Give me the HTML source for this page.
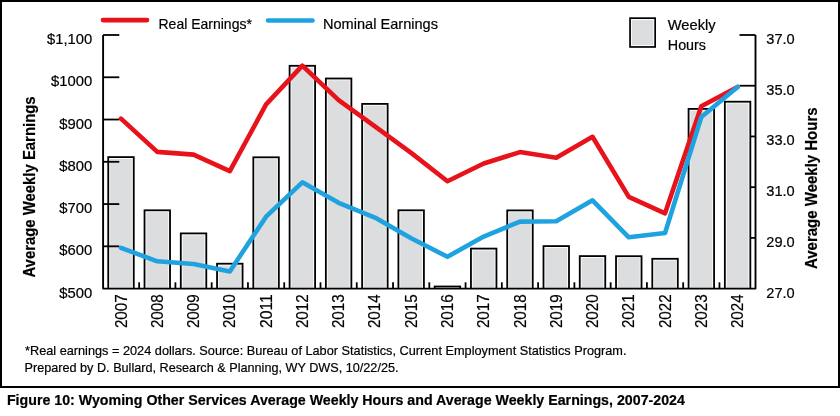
<!DOCTYPE html><html><head><meta charset="utf-8"><style>html,body{margin:0;padding:0;background:#fff;}svg{display:block;will-change:transform;}text{font-family:"Liberation Sans", sans-serif;fill:#000;stroke:#000;stroke-width:0.2px;}</style></head><body>
<svg width="840" height="416" viewBox="0 0 840 416">
<rect x="0" y="0" width="840" height="416" fill="#fff"/>
<rect x="1" y="1" width="838" height="386" fill="none" stroke="#000" stroke-width="2"/>
<line x1="755.5" y1="35.00" x2="739.5" y2="35.00" stroke="#000" stroke-width="1.8"/>
<line x1="755.5" y1="85.72" x2="739.5" y2="85.72" stroke="#000" stroke-width="1.8"/>
<line x1="755.5" y1="136.44" x2="739.5" y2="136.44" stroke="#000" stroke-width="1.8"/>
<line x1="755.5" y1="187.16" x2="739.5" y2="187.16" stroke="#000" stroke-width="1.8"/>
<line x1="755.5" y1="237.88" x2="739.5" y2="237.88" stroke="#000" stroke-width="1.8"/>
<rect x="107.35" y="156.20" width="27.30" height="132.40" fill="#000"/>
<rect x="109.15" y="158.00" width="23.70" height="130.60" fill="#fbfbfc"/>
<rect x="110.15" y="159.00" width="21.70" height="129.60" fill="#dcdddf"/>
<rect x="143.62" y="209.40" width="27.30" height="79.20" fill="#000"/>
<rect x="145.42" y="211.20" width="23.70" height="77.40" fill="#fbfbfc"/>
<rect x="146.42" y="212.20" width="21.70" height="76.40" fill="#dcdddf"/>
<rect x="179.89" y="232.50" width="27.30" height="56.10" fill="#000"/>
<rect x="181.69" y="234.30" width="23.70" height="54.30" fill="#fbfbfc"/>
<rect x="182.69" y="235.30" width="21.70" height="53.30" fill="#dcdddf"/>
<rect x="216.16" y="262.80" width="27.30" height="25.80" fill="#000"/>
<rect x="217.96" y="264.60" width="23.70" height="24.00" fill="#fbfbfc"/>
<rect x="218.96" y="265.60" width="21.70" height="23.00" fill="#dcdddf"/>
<rect x="252.43" y="156.40" width="27.30" height="132.20" fill="#000"/>
<rect x="254.23" y="158.20" width="23.70" height="130.40" fill="#fbfbfc"/>
<rect x="255.23" y="159.20" width="21.70" height="129.40" fill="#dcdddf"/>
<rect x="288.70" y="64.90" width="27.30" height="223.70" fill="#000"/>
<rect x="290.50" y="66.70" width="23.70" height="221.90" fill="#fbfbfc"/>
<rect x="291.50" y="67.70" width="21.70" height="220.90" fill="#dcdddf"/>
<rect x="324.97" y="77.60" width="27.30" height="211.00" fill="#000"/>
<rect x="326.77" y="79.40" width="23.70" height="209.20" fill="#fbfbfc"/>
<rect x="327.77" y="80.40" width="21.70" height="208.20" fill="#dcdddf"/>
<rect x="361.24" y="103.00" width="27.30" height="185.60" fill="#000"/>
<rect x="363.04" y="104.80" width="23.70" height="183.80" fill="#fbfbfc"/>
<rect x="364.04" y="105.80" width="21.70" height="182.80" fill="#dcdddf"/>
<rect x="397.51" y="209.40" width="27.30" height="79.20" fill="#000"/>
<rect x="399.31" y="211.20" width="23.70" height="77.40" fill="#fbfbfc"/>
<rect x="400.31" y="212.20" width="21.70" height="76.40" fill="#dcdddf"/>
<rect x="433.78" y="285.60" width="27.30" height="3.00" fill="#000"/>
<rect x="435.58" y="287.40" width="23.70" height="1.20" fill="#fbfbfc"/>
<rect x="436.58" y="288.40" width="21.70" height="0.20" fill="#dcdddf"/>
<rect x="470.05" y="247.70" width="27.30" height="40.90" fill="#000"/>
<rect x="471.85" y="249.50" width="23.70" height="39.10" fill="#fbfbfc"/>
<rect x="472.85" y="250.50" width="21.70" height="38.10" fill="#dcdddf"/>
<rect x="506.32" y="209.50" width="27.30" height="79.10" fill="#000"/>
<rect x="508.12" y="211.30" width="23.70" height="77.30" fill="#fbfbfc"/>
<rect x="509.12" y="212.30" width="21.70" height="76.30" fill="#dcdddf"/>
<rect x="542.59" y="245.20" width="27.30" height="43.40" fill="#000"/>
<rect x="544.39" y="247.00" width="23.70" height="41.60" fill="#fbfbfc"/>
<rect x="545.39" y="248.00" width="21.70" height="40.60" fill="#dcdddf"/>
<rect x="578.86" y="255.20" width="27.30" height="33.40" fill="#000"/>
<rect x="580.66" y="257.00" width="23.70" height="31.60" fill="#fbfbfc"/>
<rect x="581.66" y="258.00" width="21.70" height="30.60" fill="#dcdddf"/>
<rect x="615.13" y="255.30" width="27.30" height="33.30" fill="#000"/>
<rect x="616.93" y="257.10" width="23.70" height="31.50" fill="#fbfbfc"/>
<rect x="617.93" y="258.10" width="21.70" height="30.50" fill="#dcdddf"/>
<rect x="651.40" y="257.90" width="27.30" height="30.70" fill="#000"/>
<rect x="653.20" y="259.70" width="23.70" height="28.90" fill="#fbfbfc"/>
<rect x="654.20" y="260.70" width="21.70" height="27.90" fill="#dcdddf"/>
<rect x="687.67" y="108.00" width="27.30" height="180.60" fill="#000"/>
<rect x="689.47" y="109.80" width="23.70" height="178.80" fill="#fbfbfc"/>
<rect x="690.47" y="110.80" width="21.70" height="177.80" fill="#dcdddf"/>
<rect x="723.94" y="100.80" width="27.30" height="187.80" fill="#000"/>
<rect x="725.74" y="102.60" width="23.70" height="186.00" fill="#fbfbfc"/>
<rect x="726.74" y="103.60" width="21.70" height="185.00" fill="#dcdddf"/>
<path d="M103.1 35 V288.6 H755.5 V35" fill="none" stroke="#000" stroke-width="1.9" stroke-linejoin="round"/>
<line x1="103.1" y1="35.00" x2="119.3" y2="35.00" stroke="#000" stroke-width="1.8"/>
<line x1="103.1" y1="77.27" x2="119.3" y2="77.27" stroke="#000" stroke-width="1.8"/>
<line x1="103.1" y1="119.53" x2="119.3" y2="119.53" stroke="#000" stroke-width="1.8"/>
<line x1="103.1" y1="161.80" x2="119.3" y2="161.80" stroke="#000" stroke-width="1.8"/>
<line x1="103.1" y1="204.07" x2="119.3" y2="204.07" stroke="#000" stroke-width="1.8"/>
<line x1="103.1" y1="246.33" x2="119.3" y2="246.33" stroke="#000" stroke-width="1.8"/>
<line x1="139.14" y1="288.6" x2="139.14" y2="282.3" stroke="#000" stroke-width="1.8"/>
<line x1="175.41" y1="288.6" x2="175.41" y2="282.3" stroke="#000" stroke-width="1.8"/>
<line x1="211.68" y1="288.6" x2="211.68" y2="282.3" stroke="#000" stroke-width="1.8"/>
<line x1="247.95" y1="288.6" x2="247.95" y2="282.3" stroke="#000" stroke-width="1.8"/>
<line x1="284.22" y1="288.6" x2="284.22" y2="282.3" stroke="#000" stroke-width="1.8"/>
<line x1="320.49" y1="288.6" x2="320.49" y2="282.3" stroke="#000" stroke-width="1.8"/>
<line x1="356.75" y1="288.6" x2="356.75" y2="282.3" stroke="#000" stroke-width="1.8"/>
<line x1="393.03" y1="288.6" x2="393.03" y2="282.3" stroke="#000" stroke-width="1.8"/>
<line x1="429.30" y1="288.6" x2="429.30" y2="282.3" stroke="#000" stroke-width="1.8"/>
<line x1="465.57" y1="288.6" x2="465.57" y2="282.3" stroke="#000" stroke-width="1.8"/>
<line x1="501.84" y1="288.6" x2="501.84" y2="282.3" stroke="#000" stroke-width="1.8"/>
<line x1="538.11" y1="288.6" x2="538.11" y2="282.3" stroke="#000" stroke-width="1.8"/>
<line x1="574.38" y1="288.6" x2="574.38" y2="282.3" stroke="#000" stroke-width="1.8"/>
<line x1="610.64" y1="288.6" x2="610.64" y2="282.3" stroke="#000" stroke-width="1.8"/>
<line x1="646.92" y1="288.6" x2="646.92" y2="282.3" stroke="#000" stroke-width="1.8"/>
<line x1="683.19" y1="288.6" x2="683.19" y2="282.3" stroke="#000" stroke-width="1.8"/>
<line x1="719.46" y1="288.6" x2="719.46" y2="282.3" stroke="#000" stroke-width="1.8"/>
<polyline points="121.00,118.60 157.27,151.90 193.54,154.60 229.81,171.20 266.08,104.40 302.35,65.60 338.62,100.20 374.89,126.30 411.16,152.90 447.43,181.20 483.70,163.50 519.97,152.10 556.24,157.70 592.51,136.80 628.78,196.90 665.05,213.30 701.32,106.30 737.59,87.00" fill="none" stroke="#e8121b" stroke-width="4.6" stroke-linejoin="round" stroke-linecap="round"/>
<polyline points="121.00,247.80 157.27,261.30 193.54,264.00 229.81,271.40 266.08,216.70 302.35,182.30 338.62,202.80 374.89,217.60 411.16,238.20 447.43,256.80 483.70,236.60 519.97,221.60 556.24,221.30 592.51,200.30 628.78,237.30 665.05,233.00 701.32,117.00 737.59,87.00" fill="none" stroke="#1fa3e0" stroke-width="4.6" stroke-linejoin="round" stroke-linecap="round"/>
<line x1="103" y1="20.1" x2="147" y2="20.1" stroke="#e8121b" stroke-width="4.6" stroke-linecap="round"/>
<line x1="268" y1="20.5" x2="312.5" y2="20.5" stroke="#1fa3e0" stroke-width="4.6" stroke-linecap="round"/>
<text x="158.5" y="28.7" font-size="14.8" textLength="93.4" lengthAdjust="spacingAndGlyphs">Real Earnings*</text>
<text x="323" y="28.75" font-size="14.8" textLength="115" lengthAdjust="spacingAndGlyphs">Nominal Earnings</text>
<rect x="629.2" y="17.3" width="26.8" height="30.5" fill="#000"/>
<rect x="630.9" y="19" width="23.4" height="27.1" fill="#fbfbfc"/>
<rect x="632" y="20.1" width="21.2" height="24.9" fill="#dcdddf"/>
<text x="667.8" y="29.7" font-size="14" textLength="47.8" lengthAdjust="spacingAndGlyphs">Weekly</text>
<text x="667.8" y="50" font-size="14" textLength="38.2" lengthAdjust="spacingAndGlyphs">Hours</text>
<text x="92.2" y="44.00" font-size="14.8" text-anchor="end">$1,100</text>
<text x="92.2" y="86.27" font-size="14.8" text-anchor="end">$1000</text>
<text x="92.2" y="128.53" font-size="14.8" text-anchor="end">$900</text>
<text x="92.2" y="170.80" font-size="14.8" text-anchor="end">$800</text>
<text x="92.2" y="213.07" font-size="14.8" text-anchor="end">$700</text>
<text x="92.2" y="255.33" font-size="14.8" text-anchor="end">$600</text>
<text x="92.2" y="297.60" font-size="14.8" text-anchor="end">$500</text>
<text x="766.3" y="43.90" font-size="14.6">37.0</text>
<text x="766.3" y="94.62" font-size="14.6">35.0</text>
<text x="766.3" y="145.34" font-size="14.6">33.0</text>
<text x="766.3" y="196.06" font-size="14.6">31.0</text>
<text x="766.3" y="246.78" font-size="14.6">29.0</text>
<text x="766.3" y="297.50" font-size="14.6">27.0</text>
<text transform="translate(35.2,277.6) rotate(-90)" x="0" y="0" font-size="16.1" font-weight="bold" stroke="none" textLength="181.2" lengthAdjust="spacingAndGlyphs">Average Weekly Earnings</text>
<text transform="translate(817.4,269) rotate(-90)" x="0" y="0" font-size="16.1" font-weight="bold" stroke="none" textLength="161.6" lengthAdjust="spacingAndGlyphs">Average Weekly Hours</text>
<text transform="translate(126.60,328.1) rotate(-90)" x="0" y="0" font-size="16.2" textLength="33.8" lengthAdjust="spacingAndGlyphs">2007</text>
<text transform="translate(162.87,328.1) rotate(-90)" x="0" y="0" font-size="16.2" textLength="33.8" lengthAdjust="spacingAndGlyphs">2008</text>
<text transform="translate(199.14,328.1) rotate(-90)" x="0" y="0" font-size="16.2" textLength="33.8" lengthAdjust="spacingAndGlyphs">2009</text>
<text transform="translate(235.41,328.1) rotate(-90)" x="0" y="0" font-size="16.2" textLength="33.8" lengthAdjust="spacingAndGlyphs">2010</text>
<text transform="translate(271.68,328.1) rotate(-90)" x="0" y="0" font-size="16.2" textLength="33.8" lengthAdjust="spacingAndGlyphs">2011</text>
<text transform="translate(307.95,328.1) rotate(-90)" x="0" y="0" font-size="16.2" textLength="33.8" lengthAdjust="spacingAndGlyphs">2012</text>
<text transform="translate(344.22,328.1) rotate(-90)" x="0" y="0" font-size="16.2" textLength="33.8" lengthAdjust="spacingAndGlyphs">2013</text>
<text transform="translate(380.49,328.1) rotate(-90)" x="0" y="0" font-size="16.2" textLength="33.8" lengthAdjust="spacingAndGlyphs">2014</text>
<text transform="translate(416.76,328.1) rotate(-90)" x="0" y="0" font-size="16.2" textLength="33.8" lengthAdjust="spacingAndGlyphs">2015</text>
<text transform="translate(453.03,328.1) rotate(-90)" x="0" y="0" font-size="16.2" textLength="33.8" lengthAdjust="spacingAndGlyphs">2016</text>
<text transform="translate(489.30,328.1) rotate(-90)" x="0" y="0" font-size="16.2" textLength="33.8" lengthAdjust="spacingAndGlyphs">2017</text>
<text transform="translate(525.57,328.1) rotate(-90)" x="0" y="0" font-size="16.2" textLength="33.8" lengthAdjust="spacingAndGlyphs">2018</text>
<text transform="translate(561.84,328.1) rotate(-90)" x="0" y="0" font-size="16.2" textLength="33.8" lengthAdjust="spacingAndGlyphs">2019</text>
<text transform="translate(598.11,328.1) rotate(-90)" x="0" y="0" font-size="16.2" textLength="33.8" lengthAdjust="spacingAndGlyphs">2020</text>
<text transform="translate(634.38,328.1) rotate(-90)" x="0" y="0" font-size="16.2" textLength="33.8" lengthAdjust="spacingAndGlyphs">2021</text>
<text transform="translate(670.65,328.1) rotate(-90)" x="0" y="0" font-size="16.2" textLength="33.8" lengthAdjust="spacingAndGlyphs">2022</text>
<text transform="translate(706.92,328.1) rotate(-90)" x="0" y="0" font-size="16.2" textLength="33.8" lengthAdjust="spacingAndGlyphs">2023</text>
<text transform="translate(743.19,328.1) rotate(-90)" x="0" y="0" font-size="16.2" textLength="33.8" lengthAdjust="spacingAndGlyphs">2024</text>
<text x="25" y="354.5" font-size="12.8" textLength="601.5" lengthAdjust="spacingAndGlyphs">*Real earnings = 2024 dollars. Source: Bureau of Labor Statistics, Current Employment Statistics Program.</text>
<text x="24.5" y="372" font-size="12.8" textLength="374" lengthAdjust="spacingAndGlyphs">Prepared by D. Bullard, Research &amp; Planning, WY DWS, 10/22/25.</text>
<text x="6.9" y="404.6" font-size="14.4" font-weight="bold" stroke="none" textLength="678" lengthAdjust="spacingAndGlyphs">Figure 10: Wyoming Other Services Average Weekly Hours and Average Weekly Earnings, 2007-2024</text>
</svg></body></html>
